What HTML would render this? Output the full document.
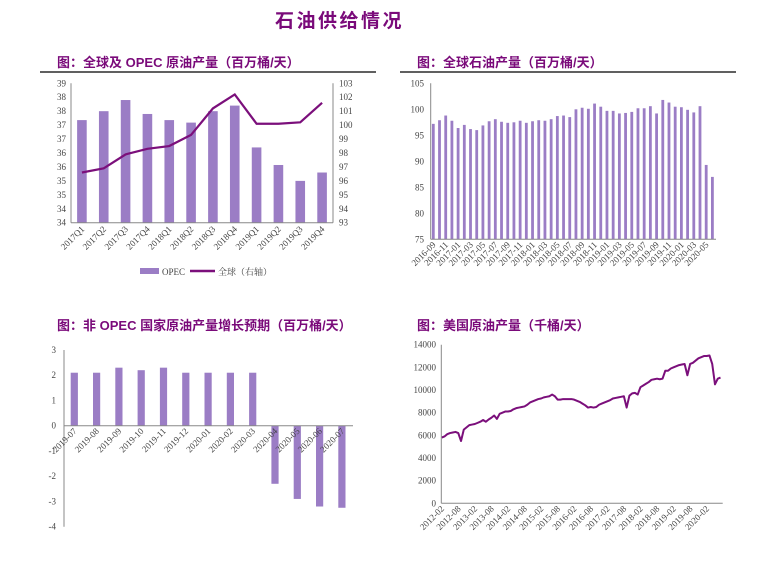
<!DOCTYPE html>
<html><head><meta charset="utf-8"><style>
body{margin:0;background:#fff;}
svg{display:block;font-family:"Liberation Serif","Noto Serif CJK SC",serif;}
.t{font-family:"Liberation Sans","Noto Sans CJK SC",sans-serif;font-weight:bold;fill:#7a0a7a;}
.tk{font-size:9px;fill:#444;}
</style></head><body>
<svg id="s" width="773" height="564" viewBox="0 0 773 564" xmlns="http://www.w3.org/2000/svg">
<text class="t" x="275" y="27" font-size="19" letter-spacing="2.5">石油供给情况</text>
<text class="t" x="57" y="67" font-size="13">图：全球及 OPEC 原油产量（百万桶/天）</text>
<line x1="40" y1="72" x2="376" y2="72" stroke="#000" stroke-width="1.2"/>
<text class="t" x="417" y="67" font-size="13">图：全球石油产量（百万桶/天）</text>
<line x1="400" y1="72" x2="736" y2="72" stroke="#000" stroke-width="1.2"/>
<text class="t" x="57" y="330" font-size="13">图：非 OPEC 国家原油产量增长预期（百万桶/天）</text>
<text class="t" x="417" y="330" font-size="13">图：美国原油产量（千桶/天）</text>
<g id="c1"></g>
<g id="c2"></g>
<g id="c3"></g>
<g id="c4"></g>
</svg>
<script>
// Chart 1
const c1Cats=["2017Q1","2017Q2","2017Q3","2017Q4","2018Q1","2018Q2","2018Q3","2018Q4","2019Q1","2019Q2","2019Q3","2019Q4"];
const c1Opec=[37.68,38.0,38.4,37.9,37.68,37.59,38.0,38.2,36.7,36.07,35.5,35.8];
const c1World=[96.6,96.9,97.9,98.3,98.5,99.3,101.2,102.2,100.1,100.1,100.2,101.6];
const c1LeftTicks=["39","38","38","37","37","36","36","35","35","34","34"];
const c1RightTicks=["103","102","101","100","99","98","97","96","95","94","93"];
// Chart 2
const c2Months=["2016-09","2016-10","2016-11","2016-12","2017-01","2017-02","2017-03","2017-04","2017-05","2017-06","2017-07","2017-08","2017-09","2017-10","2017-11","2017-12","2018-01","2018-02","2018-03","2018-04","2018-05","2018-06","2018-07","2018-08","2018-09","2018-10","2018-11","2018-12","2019-01","2019-02","2019-03","2019-04","2019-05","2019-06","2019-07","2019-08","2019-09","2019-10","2019-11","2019-12","2020-01","2020-02","2020-03","2020-04","2020-05","2020-06"];
const c2Vals=[97.2,97.9,98.8,97.8,96.4,97.0,96.2,96.0,96.9,97.7,98.1,97.6,97.4,97.5,97.8,97.4,97.7,97.9,97.8,98.1,98.7,98.8,98.5,100.0,100.3,100.1,101.1,100.5,99.7,99.7,99.2,99.3,99.5,100.2,100.2,100.6,99.2,101.8,101.3,100.5,100.4,99.9,99.4,100.6,89.3,87.0];
const c2Ticks=[105,100,95,90,85,80,75];
// Chart 3
const c3Cats=["2019-07","2019-08","2019-09","2019-10","2019-11","2019-12","2020-01","2020-02","2020-03","2020-04","2020-05","2020-06","2020-07"];
const c3Vals=[2.1,2.1,2.3,2.2,2.3,2.1,2.1,2.1,2.1,-2.3,-2.9,-3.2,-3.25];
const c3Ticks=[3,2,1,0,-1,-2,-3,-4];
// Chart 4 (monthly, from 2012-02)
const c4Vals=[5800,5900,6100,6200,6250,6300,6200,5500,6500,6700,6900,
6950,7000,7100,7200,7350,7200,7400,7550,7750,7450,7900,8000,
8100,8100,8150,8300,8400,8450,8500,8550,8700,8900,9000,9100,
9200,9250,9350,9400,9450,9600,9450,9150,9150,9200,9200,9200,
9200,9150,9050,8950,8800,8650,8450,8500,8450,8500,8700,8800,
8900,9000,9100,9250,9300,9350,9400,9450,8450,9500,9700,9750,
9600,10250,10400,10550,10700,10900,10950,11000,10950,11000,11700,11700,
11900,12000,12100,12200,12250,12300,11300,12300,12400,12600,12800,12900,
13000,13000,13050,12300,10500,11000,11100];
const c4XLabels=["2012-02","2012-08","2013-02","2013-08","2014-02","2014-08","2015-02","2015-08","2016-02","2016-08","2017-02","2017-08","2018-02","2018-08","2019-02","2019-08","2020-02"];
const c4Ticks=[14000,12000,10000,8000,6000,4000,2000,0];

const NS="http://www.w3.org/2000/svg";
function mk(p,tag,at,txt){const e=document.createElementNS(NS,tag);for(const k in at)e.setAttribute(k,at[k]);if(txt!==undefined)e.textContent=txt;p.appendChild(e);return e;}
const BAR="#9b7dc5",LINE="#7b0f7b",AX="#888";

// ---- Chart 1
(function(){
const g=document.getElementById('c1');
const x0=71,x1=333,yT=83.3,yB=222.7;
const yL=v=>yB-(v-34)/5*(yB-yT);
const yR=v=>yB-(v-93)/10*(yB-yT);
const bw=(x1-x0)/c1Cats.length;
const xc=i=>x0+bw*(i+0.5);
c1LeftTicks.forEach((t,i)=>{const y=yT+i*(yB-yT)/10;
 const e=mk(g,'text',{x:66,y:y+3,'text-anchor':'end',class:'tk'},t);
 
 
 const e2=mk(g,'text',{x:339,y:y+3,class:'tk'},c1RightTicks[i]);
 
 });
c1Opec.forEach((v,i)=>{const r=mk(g,'rect',{x:xc(i)-4.8,y:yL(v),width:9.6,height:yB-yL(v),fill:BAR});
 
 });
const pts=c1World.map((v,i)=>xc(i)+','+yR(v)).join(' ');
const pl=mk(g,'polyline',{points:pts,fill:'none',stroke:LINE,'stroke-width':2.2});


mk(g,'line',{x1:x0,y1:yT,x2:x0,y2:yB,stroke:AX});
mk(g,'line',{x1:x1,y1:yT,x2:x1,y2:yB,stroke:AX});
mk(g,'line',{x1:x0,y1:yB,x2:x1,y2:yB,stroke:AX});
c1Cats.forEach((c,i)=>{const x=xc(i)+3,y=yB+7;
 const e=mk(g,'text',{x:x,y:y,'text-anchor':'end',class:'tk',transform:`rotate(-45 ${x} ${y})`},c);
 
 });
const l1=mk(g,'rect',{x:140,y:268,width:19,height:6,fill:BAR});


const lt1=mk(g,'text',{x:162,y:275,class:'tk'},'OPEC');


const l2=mk(g,'line',{x1:190,y1:271,x2:215,y2:271,stroke:LINE,'stroke-width':2.5});


const lt2=mk(g,'text',{x:218,y:275,class:'tk'},'全球（右轴）');


})();

// ---- Chart 2
(function(){
const g=document.getElementById('c2');
const x0=430.7,x1=716,yT=83.3,yB=239.3;
const y=v=>yB-(v-75)/30*(yB-yT);
const bw=(x1-x0)/c2Vals.length;
const xc=i=>x0+bw*(i+0.5)-0.5;
c2Ticks.forEach(t=>{const e=mk(g,'text',{x:424,y:y(t)+3,'text-anchor':'end',class:'tk'},t);
 
 });
c2Vals.forEach((v,i)=>{const r=mk(g,'rect',{x:xc(i)-1.4,y:y(v),width:2.8,height:yB-y(v),fill:BAR});
 
 });
mk(g,'line',{x1:x0,y1:yT,x2:x0,y2:yB,stroke:AX});
mk(g,'line',{x1:x0,y1:yB,x2:x1,y2:yB,stroke:AX});
c2Months.forEach((m,i)=>{if(i%2)return;const x=xc(i)+3,yy=yB+6;
 const e=mk(g,'text',{x:x,y:yy,'text-anchor':'end',class:'tk','font-size':8,transform:`rotate(-45 ${x} ${yy})`},m);
 
 });
})();

// ---- Chart 3
(function(){
const g=document.getElementById('c3');
const x0=64,x1=353,yT=350,yB=526.7;
const y=v=>yT+(3-v)/7*(yB-yT);
const bw=22.3;
const xc=i=>74.3+bw*i;
c3Ticks.forEach(t=>{const e=mk(g,'text',{x:56,y:y(t)+3,'text-anchor':'end',class:'tk'},t);
 
 });
c3Vals.forEach((v,i)=>{const top=Math.min(y(v),y(0));const r=mk(g,'rect',{x:xc(i)-3.6,y:top,width:7.2,height:Math.abs(y(v)-y(0)),fill:BAR});
 
 });
mk(g,'line',{x1:x0,y1:yT,x2:x0,y2:yB,stroke:AX});
mk(g,'line',{x1:x0,y1:y(0),x2:x1,y2:y(0),stroke:AX});
c3Cats.forEach((c,i)=>{const x=xc(i)+3,yy=y(0)+6;
 const e=mk(g,'text',{x:x,y:yy,'text-anchor':'end',class:'tk',transform:`rotate(-45 ${x} ${yy})`},c);
 
 });
})();

// ---- Chart 4
(function(){
const g=document.getElementById('c4');
const x0=441.3,x1=722.7,yT=344.7,yB=503.3;
const y=v=>yB-v/14000*(yB-yT);
const pm=(706.7-441.7)/96;
const x=i=>441.7+i*pm;
c4Ticks.forEach(t=>{const e=mk(g,'text',{x:436,y:y(t)+3,'text-anchor':'end',class:'tk'},t);
 
 });
const pts=c4Vals.map((v,i)=>x(i)+','+y(v)).join(' ');
const pl=mk(g,'polyline',{points:pts,fill:'none',stroke:LINE,'stroke-width':2,'stroke-linejoin':'round'});


mk(g,'line',{x1:x0,y1:yT,x2:x0,y2:yB,stroke:AX});
mk(g,'line',{x1:x0,y1:yB,x2:x1,y2:yB,stroke:AX});
c4XLabels.forEach((l,k)=>{const xx=x(k*6)+3,yy=yB+6;
 const e=mk(g,'text',{x:xx,y:yy,'text-anchor':'end',class:'tk','font-size':8.5,transform:`rotate(-45 ${xx} ${yy})`},l);
 
 });
})();
</script>
</body></html>
